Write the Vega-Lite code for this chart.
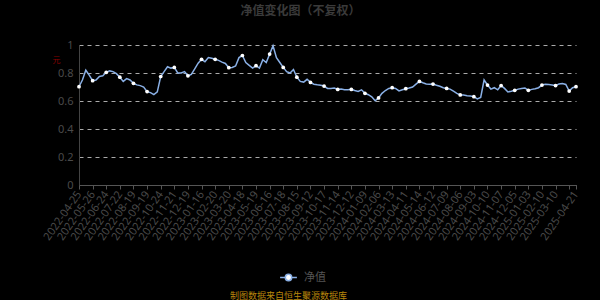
{
  "$schema": "https://vega.github.io/schema/vega-lite/v6.json",
  "autosize": "none",
  "width": 497,
  "height": 140,
  "padding": {"left": 79, "top": 45, "right": 24, "bottom": 115},
  "background": "#000000",
  "title": {
    "text": "净值变化图（不复权）",
    "font": "Noto Sans CJK SC",
    "fontSize": 12,
    "fontWeight": "bold",
    "color": "#3a3a3a",
    "anchor": "middle",
    "frame": "group",
    "dx": -27,
    "offset": 21
  },
  "config": {
    "view": {"stroke": null},
    "font": "Noto Sans"
  },
  "data": {
    "values": [
      {"date": "2022-04-25", "nav": 0.702},
      {"date": "2022-05-02", "nav": 0.75},
      {"date": "2022-05-10", "nav": 0.82},
      {"date": "2022-05-18", "nav": 0.785},
      {"date": "2022-05-26", "nav": 0.745},
      {"date": "2022-06-02", "nav": 0.75},
      {"date": "2022-06-10", "nav": 0.775},
      {"date": "2022-06-17", "nav": 0.78},
      {"date": "2022-06-24", "nav": 0.805},
      {"date": "2022-07-01", "nav": 0.815},
      {"date": "2022-07-08", "nav": 0.81},
      {"date": "2022-07-15", "nav": 0.795},
      {"date": "2022-07-22", "nav": 0.77},
      {"date": "2022-07-29", "nav": 0.74},
      {"date": "2022-08-05", "nav": 0.76},
      {"date": "2022-08-12", "nav": 0.75},
      {"date": "2022-08-19", "nav": 0.726},
      {"date": "2022-08-26", "nav": 0.715},
      {"date": "2022-09-02", "nav": 0.71},
      {"date": "2022-09-09", "nav": 0.70},
      {"date": "2022-09-19", "nav": 0.667},
      {"date": "2022-09-26", "nav": 0.66},
      {"date": "2022-10-10", "nav": 0.645},
      {"date": "2022-10-17", "nav": 0.665},
      {"date": "2022-10-24", "nav": 0.775},
      {"date": "2022-10-31", "nav": 0.81},
      {"date": "2022-11-07", "nav": 0.845},
      {"date": "2022-11-14", "nav": 0.835},
      {"date": "2022-11-21", "nav": 0.84},
      {"date": "2022-11-28", "nav": 0.80},
      {"date": "2022-12-05", "nav": 0.80},
      {"date": "2022-12-12", "nav": 0.81},
      {"date": "2022-12-19", "nav": 0.78},
      {"date": "2022-12-26", "nav": 0.79},
      {"date": "2023-01-03", "nav": 0.83},
      {"date": "2023-01-09", "nav": 0.87},
      {"date": "2023-01-16", "nav": 0.898},
      {"date": "2023-01-30", "nav": 0.88},
      {"date": "2023-02-06", "nav": 0.91},
      {"date": "2023-02-13", "nav": 0.905},
      {"date": "2023-02-20", "nav": 0.898},
      {"date": "2023-02-27", "nav": 0.89},
      {"date": "2023-03-06", "nav": 0.878},
      {"date": "2023-03-13", "nav": 0.868},
      {"date": "2023-03-20", "nav": 0.838},
      {"date": "2023-03-27", "nav": 0.84},
      {"date": "2023-04-03", "nav": 0.85},
      {"date": "2023-04-11", "nav": 0.91},
      {"date": "2023-04-18", "nav": 0.925},
      {"date": "2023-04-25", "nav": 0.875},
      {"date": "2023-05-05", "nav": 0.855},
      {"date": "2023-05-12", "nav": 0.835},
      {"date": "2023-05-19", "nav": 0.852},
      {"date": "2023-05-26", "nav": 0.835},
      {"date": "2023-06-02", "nav": 0.895},
      {"date": "2023-06-09", "nav": 0.875},
      {"date": "2023-06-16", "nav": 0.935},
      {"date": "2023-06-26", "nav": 0.995},
      {"date": "2023-07-03", "nav": 0.91},
      {"date": "2023-07-11", "nav": 0.875},
      {"date": "2023-07-18", "nav": 0.84},
      {"date": "2023-07-25", "nav": 0.81},
      {"date": "2023-08-01", "nav": 0.80},
      {"date": "2023-08-08", "nav": 0.825},
      {"date": "2023-08-15", "nav": 0.77},
      {"date": "2023-08-22", "nav": 0.74},
      {"date": "2023-08-29", "nav": 0.735},
      {"date": "2023-09-05", "nav": 0.755},
      {"date": "2023-09-12", "nav": 0.733},
      {"date": "2023-09-19", "nav": 0.72},
      {"date": "2023-09-26", "nav": 0.716},
      {"date": "2023-10-10", "nav": 0.713},
      {"date": "2023-10-17", "nav": 0.707},
      {"date": "2023-10-24", "nav": 0.69},
      {"date": "2023-10-31", "nav": 0.69},
      {"date": "2023-11-07", "nav": 0.692},
      {"date": "2023-11-14", "nav": 0.683},
      {"date": "2023-11-21", "nav": 0.685},
      {"date": "2023-11-28", "nav": 0.68},
      {"date": "2023-12-05", "nav": 0.68},
      {"date": "2023-12-12", "nav": 0.683},
      {"date": "2023-12-19", "nav": 0.675},
      {"date": "2023-12-26", "nav": 0.668},
      {"date": "2024-01-02", "nav": 0.68},
      {"date": "2024-01-09", "nav": 0.655},
      {"date": "2024-01-16", "nav": 0.645},
      {"date": "2024-01-23", "nav": 0.63},
      {"date": "2024-01-30", "nav": 0.602},
      {"date": "2024-02-06", "nav": 0.622},
      {"date": "2024-02-20", "nav": 0.655},
      {"date": "2024-02-28", "nav": 0.675},
      {"date": "2024-03-06", "nav": 0.69},
      {"date": "2024-03-13", "nav": 0.695},
      {"date": "2024-03-20", "nav": 0.69},
      {"date": "2024-03-27", "nav": 0.672},
      {"date": "2024-04-03", "nav": 0.68},
      {"date": "2024-04-11", "nav": 0.688},
      {"date": "2024-04-18", "nav": 0.693},
      {"date": "2024-04-25", "nav": 0.70},
      {"date": "2024-05-07", "nav": 0.72},
      {"date": "2024-05-14", "nav": 0.74},
      {"date": "2024-05-21", "nav": 0.73},
      {"date": "2024-05-28", "nav": 0.722},
      {"date": "2024-06-04", "nav": 0.72},
      {"date": "2024-06-12", "nav": 0.721},
      {"date": "2024-06-19", "nav": 0.712},
      {"date": "2024-06-26", "nav": 0.705},
      {"date": "2024-07-02", "nav": 0.695},
      {"date": "2024-07-09", "nav": 0.69},
      {"date": "2024-07-16", "nav": 0.685},
      {"date": "2024-07-23", "nav": 0.67},
      {"date": "2024-07-30", "nav": 0.655},
      {"date": "2024-08-06", "nav": 0.643},
      {"date": "2024-08-13", "nav": 0.642},
      {"date": "2024-08-20", "nav": 0.638},
      {"date": "2024-08-27", "nav": 0.636},
      {"date": "2024-09-03", "nav": 0.631},
      {"date": "2024-09-10", "nav": 0.615},
      {"date": "2024-09-19", "nav": 0.625},
      {"date": "2024-09-27", "nav": 0.75},
      {"date": "2024-10-10", "nav": 0.714},
      {"date": "2024-10-17", "nav": 0.685},
      {"date": "2024-10-24", "nav": 0.695},
      {"date": "2024-10-31", "nav": 0.68},
      {"date": "2024-11-07", "nav": 0.71},
      {"date": "2024-11-14", "nav": 0.69},
      {"date": "2024-11-21", "nav": 0.665},
      {"date": "2024-11-28", "nav": 0.67},
      {"date": "2024-12-05", "nav": 0.676},
      {"date": "2024-12-12", "nav": 0.685},
      {"date": "2024-12-19", "nav": 0.69},
      {"date": "2024-12-26", "nav": 0.693},
      {"date": "2025-01-03", "nav": 0.676},
      {"date": "2025-01-10", "nav": 0.683},
      {"date": "2025-01-17", "nav": 0.688},
      {"date": "2025-01-24", "nav": 0.695},
      {"date": "2025-02-10", "nav": 0.714},
      {"date": "2025-02-17", "nav": 0.72},
      {"date": "2025-02-24", "nav": 0.718},
      {"date": "2025-03-03", "nav": 0.715},
      {"date": "2025-03-10", "nav": 0.71},
      {"date": "2025-03-17", "nav": 0.722},
      {"date": "2025-03-24", "nav": 0.725},
      {"date": "2025-03-31", "nav": 0.718},
      {"date": "2025-04-08", "nav": 0.671},
      {"date": "2025-04-15", "nav": 0.695},
      {"date": "2025-04-21", "nav": 0.702}
    ]
  },
  "encoding": {
    "x": {
      "field": "date",
      "type": "ordinal",
      "sort": null,
      "scale": {"type": "point", "padding": 0},
      "axis": {
        "values": ["2022-04-25","2022-05-26","2022-06-24","2022-07-22","2022-08-19","2022-09-19","2022-10-24","2022-11-21","2022-12-19","2023-01-16","2023-02-20","2023-03-20","2023-04-18","2023-05-19","2023-06-16","2023-07-18","2023-08-15","2023-09-12","2023-10-17","2023-11-14","2023-12-12","2024-01-09","2024-02-06","2024-03-13","2024-04-11","2024-05-14","2024-06-12","2024-07-09","2024-08-06","2024-09-03","2024-10-10","2024-11-07","2024-12-05","2025-01-03","2025-02-10","2025-03-10","2025-04-08","2025-04-21"],
        "labelExpr": "datum.value == '2025-04-08' ? '' : datum.label",
        "labelAngle": -55,
        "labelAlign": "right",
        "labelBaseline": "middle",
        "labelFontSize": 11,
        "labelColor": "#4a4a4a",
        "labelPadding": 3,
        "labelOverlap": false,
        "tickColor": "#555555",
        "tickSize": 4,
        "domainColor": "#555555",
        "grid": false,
        "title": "制图数据来自恒生聚源数据库",
        "titleFont": "Noto Sans CJK SC",
        "titleFontSize": 9,
        "titleFontWeight": "normal",
        "titleColor": "#b8860b",
        "titleX": 209,
        "titleY": 110,
        "titleAlign": "center",
        "titleBaseline": "middle",
        "titleAnchor": null
      }
    },
    "y": {
      "field": "nav",
      "type": "quantitative",
      "scale": {"domain": [0, 1], "nice": false, "zero": true},
      "axis": {
        "values": [0, 0.2, 0.4, 0.6, 0.8, 1],
        "format": ".1~f",
        "labelFontSize": 11,
        "labelColor": "#4a4a4a",
        "labelPadding": 6,
        "ticks": false,
        "domainColor": "#444444",
        "gridColor": "#aaaaaa",
        "gridDash": [4, 4],
        "gridWidth": 1,
        "title": "元",
        "titleFont": "Noto Sans CJK SC",
        "titleFontSize": 8,
        "titleFontWeight": "normal",
        "titleColor": "#8b0000",
        "titleAngle": 0,
        "titleX": -23,
        "titleY": 15,
        "titleAlign": "center",
        "titleBaseline": "middle"
      }
    }
  },
  "layer": [
    {
      "mark": {"type": "line", "strokeWidth": 1.5, "interpolate": "linear"},
      "encoding": {
        "color": {
          "datum": "净值",
          "scale": {"range": ["#8ab0e6"]},
          "legend": {
            "title": null,
            "orient": "none",
            "legendX": 204,
            "legendY": 227,
            "symbolType": "M -2.1 0 L -0.8 0 M 0.8 0 L 2.1 0 M 0.8 0 A 0.8 0.8 0 1 1 -0.8 0 A 0.8 0.8 0 1 1 0.8 0 Z",
            "symbolSize": 64,
            "symbolFillColor": "#ffffff",
            "symbolStrokeColor": "#8ab0e6",
            "symbolStrokeWidth": 1.5,
            "labelColor": "#555555",
            "labelFont": "Noto Sans CJK SC",
            "labelFontSize": 11,
            "labelOffset": 10
          }
        }
      }
    },
    {
      "transform": [
        {"filter": {"field": "date", "oneOf": ["2022-04-25","2022-05-26","2022-06-24","2022-07-22","2022-08-19","2022-09-19","2022-10-24","2022-11-21","2022-12-19","2023-01-16","2023-02-20","2023-03-20","2023-04-18","2023-05-19","2023-06-16","2023-07-18","2023-08-15","2023-09-12","2023-10-17","2023-11-14","2023-12-12","2024-01-09","2024-02-06","2024-03-13","2024-04-11","2024-05-14","2024-06-12","2024-07-09","2024-08-06","2024-09-03","2024-10-10","2024-11-07","2024-12-05","2025-01-03","2025-02-10","2025-03-10","2025-04-08","2025-04-21"]}}
      ],
      "mark": {"type": "point", "filled": true, "color": "#ffffff", "size": 14, "opacity": 1}
    }
  ]
}
